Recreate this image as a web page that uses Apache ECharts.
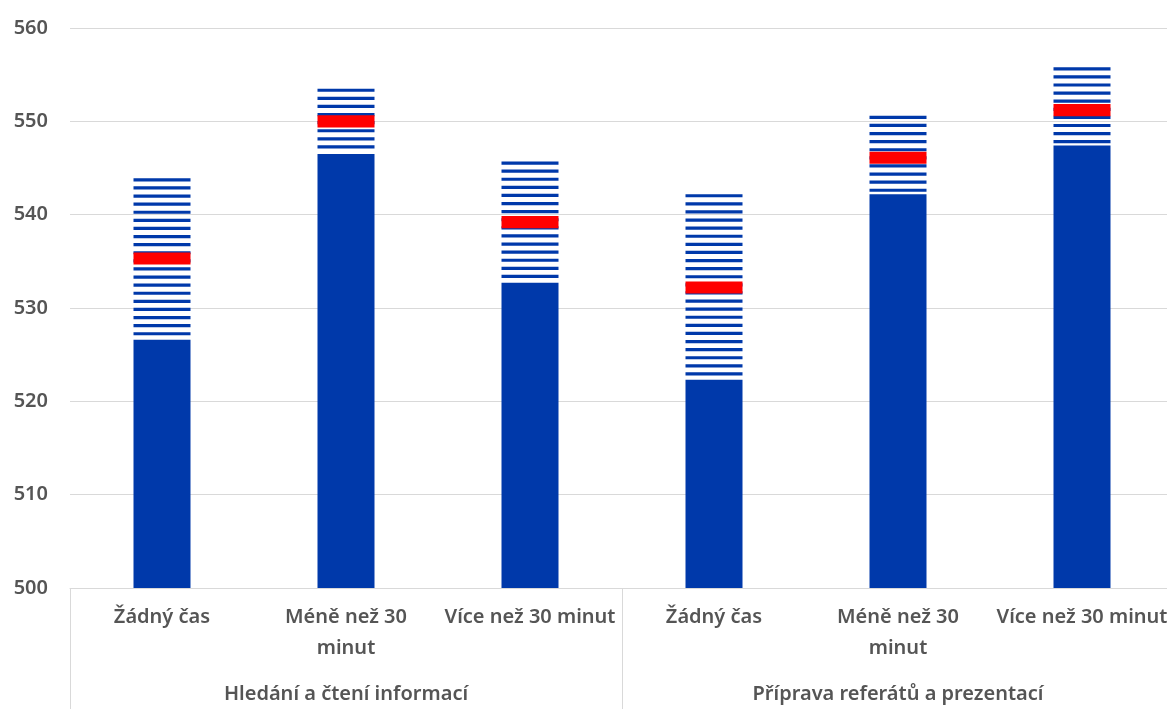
<!DOCTYPE html>
<html>
<head>
<meta charset="utf-8">
<script src="https://cdn.jsdelivr.net/npm/echarts@6/dist/echarts.min.js"></script>
<style>
html,body{margin:0;padding:0;background:#fff;overflow:hidden;}
#chart{width:1175px;height:709px;}
</style>
</head>
<body>
<div id="chart"></div>
<script>
const categories = ['Žádný čas', 'Méně než 30\nminut', 'Více než 30 minut', 'Žádný čas', 'Méně než 30\nminut', 'Více než 30 minut'];
const groups = ['Hledání a čtení informací', 'Příprava referátů a prezentací'];
const lower = [526.6, 546.5, 532.7, 522.3, 542.2, 547.4];
const mean = [535.3, 550.0, 539.2, 532.2, 546.1, 551.2];
const upper = [543.9, 553.5, 545.7, 542.2, 550.6, 555.8];
const yTicks = { min: 500, max: 560, interval: 10 };

const BLUE = '#0039AA';
const RED = '#FF0000';
const markH = 1.3;
const barW = 57;
const font = '"Noto Sans", sans-serif';
const textColor = '#555555';
const textWeight = 600;

const stripeData = categories.map((c, i) => [i, lower[i], upper[i]]);
const markData = categories.map((c, i) => [i, mean[i] - markH / 2, mean[i] + markH / 2]);

function stripeItem(params, api) {
  const i = api.value(0);
  const top = api.coord([i, api.value(2)]);
  const bot = api.coord([i, api.value(1)]);
  const x = top[0] - barW / 2;
  const children = [];
  for (let y = top[1]; y < bot[1] - 3; y += 8.1) {
    children.push({ type: 'rect', shape: { x: x, y: y, width: barW, height: 3.2 }, style: { fill: BLUE } });
  }
  return { type: 'group', children: children };
}
function markItem(params, api) {
  const i = api.value(0);
  const top = api.coord([i, api.value(2)]);
  const bot = api.coord([i, api.value(1)]);
  return { type: 'rect', shape: { x: top[0] - barW / 2, y: top[1], width: barW, height: bot[1] - top[1] }, style: { fill: RED } };
}

const chart = echarts.init(document.getElementById('chart'), null, { renderer: 'canvas' });
chart.setOption({
  animation: false,
  grid: { left: 70, top: 28, right: 1, height: 560 },
  xAxis: [
    {
      type: 'category', data: categories, position: 'bottom',
      axisLine: { show: true, lineStyle: { color: '#d9d9d9', width: 1 } },
      axisTick: { show: false },
      axisLabel: { interval: 0, color: textColor, fontFamily: font, fontWeight: textWeight, fontSize: 20, lineHeight: 31, margin: 14 }
    },
    {
      type: 'category', data: groups, position: 'bottom',
      axisLine: { show: false },
      axisTick: { show: true, length: 121, lineStyle: { color: '#d9d9d9' } },
      axisLabel: { interval: 0, color: textColor, fontFamily: font, fontWeight: textWeight, fontSize: 20, margin: 96 }
    }
  ],
  yAxis: {
    type: 'value', min: yTicks.min, max: yTicks.max, interval: yTicks.interval,
    axisLine: { show: false }, axisTick: { show: false },
    splitLine: { lineStyle: { color: '#d9d9d9', width: 1 } },
    axisLabel: { color: textColor, fontFamily: font, fontWeight: textWeight, fontSize: 20, margin: 22 }
  },
  series: [
    { type: 'bar', data: lower, barWidth: barW, itemStyle: { color: BLUE } },
    { type: 'custom', renderItem: stripeItem, data: stripeData, encode: { x: 0, y: [1, 2] } },
    { type: 'custom', renderItem: markItem, data: markData, encode: { x: 0, y: [1, 2] } }
  ]
});
</script>
</body>
</html>
